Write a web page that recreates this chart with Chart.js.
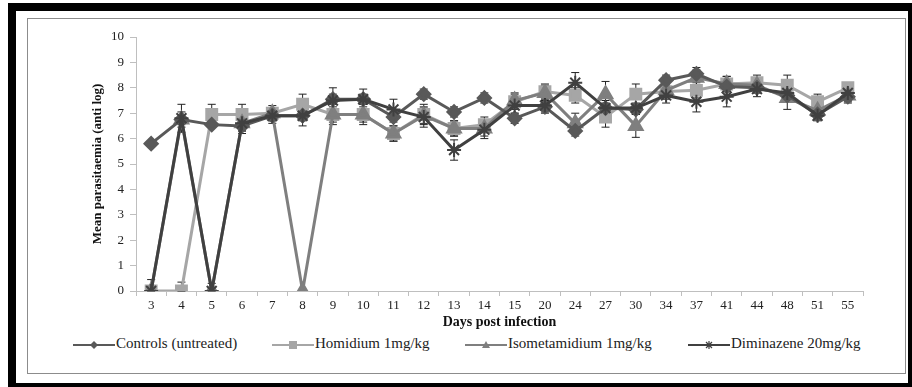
<!DOCTYPE html>
<html lang="en">

<head>
    <script src="https://cdn.jsdelivr.net/npm/chart.js"></script>
    <meta charset="UTF-8">
    <title>Mean parasitaemia</title>
    <style>
        body {
            margin: 0;
            width: 912px;
            height: 387px;
            overflow: hidden;
            background: #fff;
            font-family: "Liberation Serif", "DejaVu Serif", serif;
        }

        .frame {
            position: absolute;
            left: 8px;
            top: 3px;
            width: 892px;
            height: 372px;
            border: 8px solid #000;
        }

        .inner {
            position: absolute;
            left: 27px;
            top: 18px;
            width: 877px;
            height: 354px;
            border: 1px solid #8c8c8c;
        }

        #chart {
            position: absolute;
            left: 28px;
            top: 19px;
        }

        .legend {
            position: absolute;
            top: 335px;
            left: 0;
            font-size: 15px;
            color: #222;
        }

        .legend span {
            position: absolute;
            white-space: nowrap;
        }
    </style>
</head>

<body>
    <div class="frame"></div>
    <div class="inner"></div>
    <canvas id="chart" width="876" height="312"></canvas>
    <div class="legend" id="legend"></div>

    <script>
        // days post infection
        const days = ['3', '4', '5', '6', '7', '8', '9', '10', '11', '12', '13', '14', '15',
            '20', '24', '27', '30', '34', '37', '41', '44', '48', '51', '55'];

        const controls = [5.8, 6.75, 6.55, 6.5, 6.9, 6.9, 7.55, 7.55, 6.85, 7.75, 7.05, 7.6,
            6.8, 7.25, 6.3, 7.2, 7.15, 8.3, 8.55, 8.05, 8.0, 7.7, 6.95, 7.65];
        const homidium = [0, 0, 6.95, 6.95, 7.0, 7.35, 6.95, 6.95, 6.2, 6.95, 6.4, 6.55,
            7.45, 7.85, 7.7, 6.85, 7.75, 7.85, 7.9, 8.15, 8.2, 8.1, 7.45, 8.0];
        const isometamidium = [0, 6.75, 0, 6.6, 7.0, 0, 6.95, 6.95, 6.2, 6.9, 6.4, 6.4,
            7.5, 7.8, 6.6, 7.75, 6.5, 7.9, 8.4, 8.15, 8.1, 7.6, 7.1, 7.7];
        const diminazene = [0, 6.8, 0, 6.6, 6.9, 6.9, 7.5, 7.55, 7.15, 6.85, 5.55, 6.35,
            7.3, 7.3, 8.2, 7.2, 7.2, 7.7, 7.45, 7.65, 7.95, 7.8, 6.9, 7.8];

        // error bar half-lengths
        const controlsErr = [0.1, 0.2, 0.1, 0.2, 0.2, 0.2, 0.2, 0.2, 0.2, 0.2, 0.2, 0.2,
            0.2, 0.2, 0.2, 0.2, 0.2, 0.2, 0.25, 0.2, 0.2, 0.2, 0.2, 0.2];
        const homidiumErr = [0, 0.35, 0.4, 0.4, 0.3, 0.4, 0.4, 0.4, 0.3, 0.4, 0.3, 0.3,
            0.3, 0.3, 0.3, 0.4, 0.4, 0.3, 0.3, 0.3, 0.3, 0.4, 0.3, 0.2];
        const isometamidiumErr = [0, 0.3, 0, 0.3, 0.2, 0, 0.3, 0.3, 0.3, 0.3, 0.3, 0.3,
            0.3, 0.3, 0.4, 0.5, 0.45, 0.3, 0.3, 0.3, 0.3, 0.45, 0.3, 0.3];
        const diminazeneErr = [0.45, 0.55, 0.3, 0.4, 0.3, 0.4, 0.5, 0.4, 0.4, 0.4, 0.4, 0.35,
            0.3, 0.3, 0.4, 0.3, 0.2, 0.3, 0.4, 0.4, 0.3, 0.35, 0.2, 0.3];

        const errorBars = {
            id: 'errorBars',
            beforeDatasetsDraw(chart) {
                const ctx = chart.ctx;
                const y = chart.scales.y;
                ctx.save();
                ctx.strokeStyle = '#222';
                ctx.lineWidth = 1;
                chart.data.datasets.forEach((ds, i) => {
                    const meta = chart.getDatasetMeta(i);
                    meta.data.forEach((pt, j) => {
                        const e = ds.err[j];
                        if (!e) return;
                        const top = y.getPixelForValue(ds.data[j] + e);
                        const bot = y.getPixelForValue(Math.max(0, ds.data[j] - e));
                        ctx.beginPath();
                        ctx.moveTo(pt.x, top);
                        ctx.lineTo(pt.x, bot);
                        ctx.moveTo(pt.x - 4, top);
                        ctx.lineTo(pt.x + 4, top);
                        ctx.moveTo(pt.x - 4, bot);
                        ctx.lineTo(pt.x + 4, bot);
                        ctx.stroke();
                    });
                });
                ctx.restore();
            }
        };

        const serif = "'Liberation Serif', 'DejaVu Serif', serif";

        new Chart(document.getElementById('chart'), {
            type: 'line',
            data: {
                labels: days,
                datasets: [{
                    label: 'Controls (untreated)',
                    data: controls,
                    err: controlsErr,
                    borderColor: '#595959',
                    backgroundColor: '#595959',
                    borderWidth: 3,
                    pointStyle: 'rectRot',
                    pointRadius: 6,
                    order: 1
                },
                {
                    label: 'Homidium 1mg/kg',
                    data: homidium,
                    err: homidiumErr,
                    borderColor: '#a6a6a6',
                    backgroundColor: '#a6a6a6',
                    borderWidth: 3,
                    pointStyle: 'rect',
                    pointRadius: 7,
                    order: 3
                },
                {
                    label: 'Isometamidium 1mg/kg',
                    data: isometamidium,
                    err: isometamidiumErr,
                    borderColor: '#7f7f7f',
                    backgroundColor: '#7f7f7f',
                    borderWidth: 3,
                    pointStyle: 'triangle',
                    pointRadius: 7,
                    order: 2
                },
                {
                    label: 'Diminazene 20mg/kg',
                    data: diminazene,
                    err: diminazeneErr,
                    borderColor: '#404040',
                    backgroundColor: '#404040',
                    borderWidth: 3,
                    pointStyle: 'star',
                    pointRadius: 7,
                    pointBorderWidth: 2,
                    order: 0
                }]
            },
            options: {
                responsive: false,
                animation: false,
                layout: {
                    padding: { left: 0, right: 41, top: 18, bottom: 0 }
                },
                plugins: {
                    legend: { display: false },
                    tooltip: { enabled: false }
                },
                scales: {
                    x: {
                        offset: true,
                        grid: {
                            offset: true,
                            drawOnChartArea: false,
                            tickLength: 5,
                            color: '#bfbfbf'
                        },
                        border: { color: '#bfbfbf' },
                        ticks: {
                            color: '#222',
                            padding: 2,
                            maxRotation: 0,
                            autoSkip: false,
                            font: { family: serif, size: 13 }
                        },
                        title: {
                            display: true,
                            text: 'Days post infection',
                            color: '#111',
                            padding: { top: 0, bottom: 0 },
                            font: { family: serif, size: 14, weight: 'bold' }
                        },
                        afterFit: s => { s.height = 40; }
                    },
                    y: {
                        min: 0,
                        max: 10,
                        grid: {
                            drawOnChartArea: false,
                            tickLength: 6,
                            color: '#bfbfbf'
                        },
                        border: { color: '#bfbfbf' },
                        ticks: {
                            stepSize: 1,
                            color: '#222',
                            padding: 6,
                            font: { family: serif, size: 13 }
                        },
                        title: {
                            display: true,
                            text: 'Mean parasitaemia (anti log)',
                            color: '#111',
                            padding: { top: 62, bottom: 0 },
                            font: { family: serif, size: 13, weight: 'bold' }
                        },
                        afterFit: s => { s.width = 108; }
                    }
                }
            },
            plugins: [errorBars]
        });

        // legend below the chart, line with marker like the original
        const legendItems = [
            { text: 'Controls (untreated)', color: '#595959', mark: 'diamond', x: 73 },
            { text: 'Homidium 1mg/kg', color: '#a6a6a6', mark: 'square', x: 272 },
            { text: 'Isometamidium 1mg/kg', color: '#7f7f7f', mark: 'triangle', x: 465 },
            { text: 'Diminazene 20mg/kg', color: '#404040', mark: 'cross', x: 688 }
        ];
        const legend = document.getElementById('legend');
        legendItems.forEach(it => {
            const c = document.createElement('canvas');
            c.width = 42; c.height = 12;
            c.style.position = 'absolute';
            c.style.left = it.x + 'px';
            c.style.top = '4px';
            const g = c.getContext('2d');
            g.strokeStyle = it.color;
            g.fillStyle = it.color;
            g.lineWidth = 2;
            g.beginPath(); g.moveTo(0, 6); g.lineTo(42, 6); g.stroke();
            if (it.mark === 'diamond') {
                g.beginPath(); g.moveTo(21, 2); g.lineTo(25, 6); g.lineTo(21, 10); g.lineTo(17, 6); g.fill();
            } else if (it.mark === 'square') {
                g.fillRect(17, 2, 8, 8);
            } else if (it.mark === 'triangle') {
                g.beginPath(); g.moveTo(21, 2); g.lineTo(25, 9); g.lineTo(17, 9); g.fill();
            } else {
                g.lineWidth = 1.2;
                g.beginPath();
                g.moveTo(18, 3); g.lineTo(24, 9); g.moveTo(24, 3); g.lineTo(18, 9);
                g.moveTo(21, 2); g.lineTo(21, 10);
                g.stroke();
            }
            legend.appendChild(c);
            const s = document.createElement('span');
            s.textContent = it.text;
            s.style.left = (it.x + 43) + 'px';
            s.style.top = '0px';
            legend.appendChild(s);
        });
    </script>
</body>

</html>
